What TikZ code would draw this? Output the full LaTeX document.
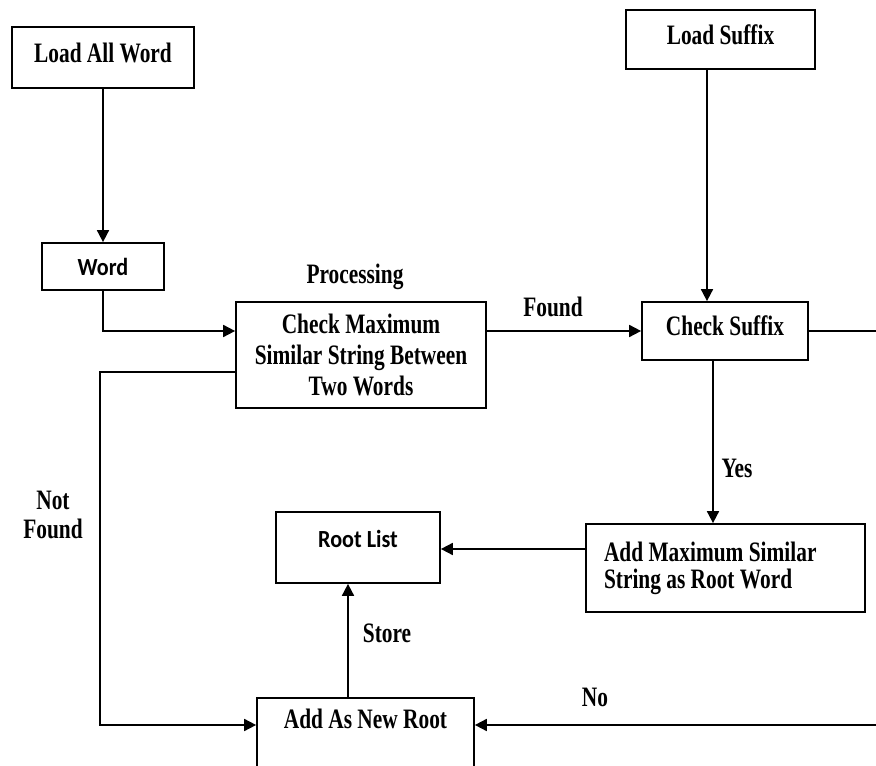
\documentclass[tikz,border=0pt]{standalone}
\usepackage{fontspec}
\setmainfont{Liberation Serif}[FakeStretch=0.76]
\newfontfamily\calfont{Carlito}[FakeStretch=0.9]
\usetikzlibrary{arrows.meta}

\begin{document}
\begin{tikzpicture}[x=0.02cm,y=-0.02cm,>={Triangle[length=2.4mm,width=2.4mm]},
    box/.style={draw,line width=1pt,fill=white,align=center,inner sep=0pt,
        font=\bfseries\fontsize{16}{17.6}\selectfont},
    sansbox/.style={box,font=\calfont\bfseries\fontsize{14}{16}\selectfont},
    flow/.style={->,line width=1pt},
    lbl/.style={align=center,inner sep=1pt,font=\bfseries\fontsize{16}{17.6}\selectfont}]
    \useasboundingbox (0,0) rectangle (876,766);
    \fill[white] (0,0) rectangle (876,766);
    \clip (0,0) rectangle (876,766);

    % boxes
    \node[box,minimum width=3.64cm,minimum height=1.22cm,text depth=0.2cm] (loadword) at (103,57.5) {Load All Word};
    \node[box,minimum width=3.78cm,minimum height=1.18cm,text depth=0.2cm] (loadsuffix) at (720.5,39.5) {Load Suffix};
    \node[sansbox,minimum width=2.44cm,minimum height=0.94cm] (word) at (103,266.5) {Word};
    \node[box,minimum width=5cm,minimum height=2.12cm] (checkmax) at (361,355)
        {Check Maximum\\Similar String Between\\Two Words};
    \node[box,minimum width=3.32cm,minimum height=1.16cm,text depth=0.2cm] (checksuffix) at (725,331) {Check Suffix};
    \node[box,align=flush left,text width=4.86cm,inner xsep=0.36cm,minimum height=1.76cm,
        font=\bfseries\fontsize{16}{15.4}\selectfont] (addmax) at (725.5,568)
        {Add Maximum Similar\\String as Root Word};
    \node[sansbox,minimum width=3.28cm,minimum height=1.42cm,text depth=0.35cm] (rootlist) at (358,547.5) {Root List};
    \node[box,minimum width=4.34cm,minimum height=1.84cm,text depth=1cm] (newroot) at (365.5,744) {Add As New Root};

    % bends
    \coordinate (nfcorner) at (100,372);
    \coordinate (rightbus) at (900,331);

    % connectors
    \draw[flow] (loadword) -- (word);
    \draw[flow] (word.south) |- (checkmax.west |- checksuffix.west);
    \draw[flow] (checkmax.east |- checksuffix.west) -- (checksuffix.west);
    \draw[flow] (loadsuffix.south -| 707,0) -- (checksuffix.north -| 707,0);
    \draw[flow] (checksuffix.south -| 713,0) -- (addmax.north -| 713,0);
    \draw[flow] (addmax.west |- 0,549) -- (rootlist.east |- 0,549);
    \draw[flow] (checkmax.west |- nfcorner) -- (nfcorner) |- (newroot.west |- 0,725);
    \draw[flow] (checksuffix.east) -- (rightbus) |- (newroot.east |- 0,725);
    \draw[flow] (newroot.north -| 348,0) -- (rootlist.south -| 348,0);

    % labels
    \node[lbl] (processing) at (355,277) {Processing};
    \node[lbl] (found) at (553,307) {Found};
    \node[lbl] (yes) at (737,468) {Yes};
    \node[lbl,font=\bfseries\fontsize{16}{17}\selectfont] (notfound) at (53,515) {Not\\Found};
    \node[lbl] (store) at (387,633) {Store};
    \node[lbl] (no) at (595,697) {No};
\end{tikzpicture}
\end{document}
